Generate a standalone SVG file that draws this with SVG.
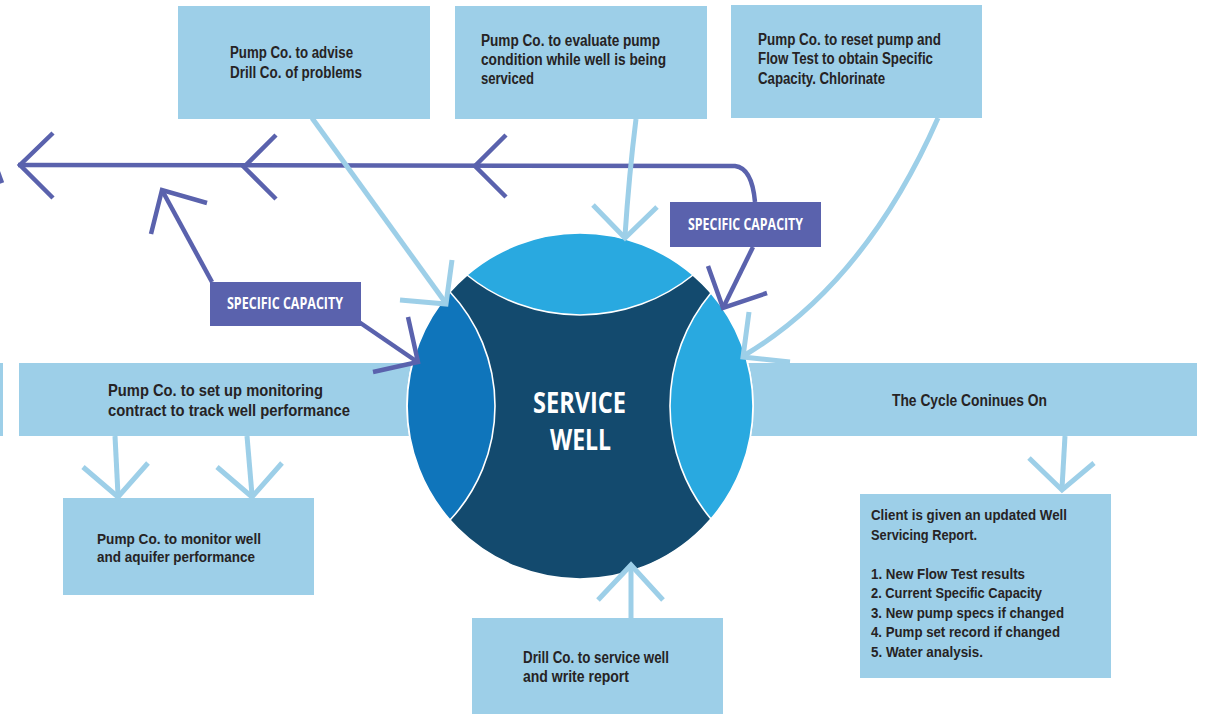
<svg xmlns="http://www.w3.org/2000/svg" width="1205" height="714" viewBox="0 0 1205 714">
  <style>
    .box { fill: #9dcfe8; }
    .txt { font-family: "Liberation Sans", Arial, sans-serif; font-weight: 700; fill: #262324; }
    .lbl { fill: #5a62ad; }
    .lbltxt { font-family: "Open Sans", "Liberation Sans", sans-serif; font-weight: 700; font-size: 16px; fill: #ffffff; }
    .ring { stroke: #ffffff; stroke-width: 1.6; }
    .hub { font-family: "Open Sans", "Liberation Sans", sans-serif; font-weight: 700; font-size: 29px; fill: #ffffff; }
    .lb { fill: none; stroke: #9dcfe8; stroke-width: 5; stroke-linecap: butt; stroke-linejoin: miter; }
    .pu { fill: none; stroke: #5a62ad; stroke-width: 4.5; stroke-linecap: butt; stroke-linejoin: miter; }
  </style>

  <rect width="1205" height="714" fill="#ffffff"/>

  <!-- boxes -->
  <g id="edge-box">
    <rect class="box" x="-10" y="363" width="13" height="73"/>
  </g>
  <g id="advise">
    <rect class="box" x="178" y="6" width="252" height="113"/>
    <text class="txt" font-size="16" x="230" y="58" textLength="123" lengthAdjust="spacingAndGlyphs">Pump Co. to advise</text>
    <text class="txt" font-size="16" x="230" y="78" textLength="132" lengthAdjust="spacingAndGlyphs">Drill Co. of problems</text>
  </g>
  <g id="evaluate">
    <rect class="box" x="455" y="6" width="252" height="113"/>
    <text class="txt" font-size="16" x="481" y="46" textLength="179" lengthAdjust="spacingAndGlyphs">Pump Co. to evaluate pump</text>
    <text class="txt" font-size="16" x="481" y="65" textLength="185" lengthAdjust="spacingAndGlyphs">condition while well is being</text>
    <text class="txt" font-size="16" x="481" y="84" textLength="53" lengthAdjust="spacingAndGlyphs">serviced</text>
  </g>
  <g id="reset">
    <rect class="box" x="731" y="5" width="251" height="113"/>
    <text class="txt" font-size="16" x="758" y="45" textLength="183" lengthAdjust="spacingAndGlyphs">Pump Co. to reset pump and</text>
    <text class="txt" font-size="16" x="758" y="64" textLength="175" lengthAdjust="spacingAndGlyphs">Flow Test to obtain Specific</text>
    <text class="txt" font-size="16" x="758" y="84" textLength="127" lengthAdjust="spacingAndGlyphs">Capacity. Chlorinate</text>
  </g>
  <g id="contract">
    <rect class="box" x="19" y="363" width="400" height="73"/>
    <text class="txt" font-size="17" x="108" y="396" textLength="215" lengthAdjust="spacingAndGlyphs">Pump Co. to set up monitoring</text>
    <text class="txt" font-size="17" x="108" y="416" textLength="242" lengthAdjust="spacingAndGlyphs">contract to track well performance</text>
  </g>
  <g id="monitor">
    <rect class="box" x="63" y="498" width="251" height="97"/>
    <text class="txt" font-size="15.5" x="97" y="544" textLength="164" lengthAdjust="spacingAndGlyphs">Pump Co. to monitor well</text>
    <text class="txt" font-size="15.5" x="97" y="562" textLength="158" lengthAdjust="spacingAndGlyphs">and aquifer performance</text>
  </g>
  <g id="cycle">
    <rect class="box" x="740" y="363" width="457" height="73"/>
    <text class="txt" font-size="17" x="892" y="406" textLength="155" lengthAdjust="spacingAndGlyphs">The Cycle Coninues On</text>
  </g>
  <g id="report">
    <rect class="box" x="860" y="494" width="251" height="184"/>
    <text class="txt" font-size="15.5" x="871" y="520" textLength="196" lengthAdjust="spacingAndGlyphs">Client is given an updated Well</text>
    <text class="txt" font-size="15.5" x="871" y="539.5" textLength="106" lengthAdjust="spacingAndGlyphs">Servicing Report.</text>
    <text class="txt" font-size="15.5" x="871" y="579" textLength="154" lengthAdjust="spacingAndGlyphs">1. New Flow Test results</text>
    <text class="txt" font-size="15.5" x="871" y="598" textLength="171" lengthAdjust="spacingAndGlyphs">2. Current Specific Capacity</text>
    <text class="txt" font-size="15.5" x="871" y="618" textLength="193" lengthAdjust="spacingAndGlyphs">3. New pump specs if changed</text>
    <text class="txt" font-size="15.5" x="871" y="637" textLength="189" lengthAdjust="spacingAndGlyphs">4. Pump set record if changed</text>
    <text class="txt" font-size="15.5" x="871" y="657" textLength="112" lengthAdjust="spacingAndGlyphs">5. Water analysis.</text>
  </g>
  <g id="service">
    <rect class="box" x="472" y="618" width="251" height="100"/>
    <text class="txt" font-size="16" x="523" y="663" textLength="146" lengthAdjust="spacingAndGlyphs">Drill Co. to service well</text>
    <text class="txt" font-size="16" x="523" y="682" textLength="106" lengthAdjust="spacingAndGlyphs">and write report</text>
  </g>

  <!-- central wheel -->
  <g id="service-well">
    <circle class="ring" cx="580" cy="406" r="173" fill="#134a6e"/>
    <path class="ring" fill="#29a9e0" d="M467,275 A173,173 0 0 1 693,275 A179.6,179.6 0 0 1 467,275 Z"/>
    <path class="ring" fill="#0f75bb" d="M450,292 A166.9,166.9 0 0 1 450,520 A173,173 0 0 1 450,292 Z"/>
    <path class="ring" fill="#29a9e0" d="M711,293 A173,173 0 0 1 711,519 A176.2,176.2 0 0 1 711,293 Z"/>
    <text class="hub" x="533" y="413" textLength="93" lengthAdjust="spacingAndGlyphs">SERVICE</text>
    <text class="hub" x="550" y="450" textLength="61" lengthAdjust="spacingAndGlyphs">WELL</text>
  </g>

  <!-- connectors -->
  <g id="connectors">
    <!-- specific capacity feedback line -->
    <path class="pu" d="M18,165 L735,166 Q752,168 755,202"/>
    <polyline class="pu" points="53,133 20,165 53,198"/>
    <polyline class="pu" points="276,135 244,167 276,199"/>
    <polyline class="pu" points="506,135 475,166 506,197"/>
    <path class="pu" d="M-2,172 L2,183"/>
    <!-- label 1 arrows -->
    <line class="pu" x1="212" y1="282" x2="163" y2="192"/>
    <polyline class="pu" points="207,203 162,190 151,234"/>
    <line class="pu" x1="359" y1="322" x2="416" y2="361"/>
    <polyline class="pu" points="408,317 418,362 373,372"/>
    <!-- label 2 arrow -->
    <line class="pu" x1="753" y1="247" x2="724" y2="306"/>
    <polyline class="pu" points="708,266 723,308 767,293"/>

    <!-- light blue flow arrows -->
    <line class="lb" x1="312" y1="118" x2="445" y2="302"/>
    <polyline class="lb" points="452,260 446,304 400,300"/>
    <path class="lb" d="M636,119 Q629,175 625,236"/>
    <polyline class="lb" points="593,205 625,238 657,207"/>
    <path class="lb" d="M938,118 Q865.5,282.5 745,355"/>
    <polyline class="lb" points="749,312 743,357 790,362"/>
    <line class="lb" x1="115" y1="436" x2="118" y2="495"/>
    <polyline class="lb" points="83,467 118,497 148,463"/>
    <line class="lb" x1="247" y1="436" x2="252" y2="495"/>
    <polyline class="lb" points="217,467 252,497 282,463"/>
    <line class="lb" x1="1065" y1="436" x2="1062" y2="488"/>
    <polyline class="lb" points="1029,458 1062,490 1094,463"/>
    <line class="lb" x1="631" y1="618" x2="631" y2="567"/>
    <polyline class="lb" points="598,600 631,565 663,600"/>
  </g>

  <!-- specific capacity labels -->
  <g id="capacity-left">
    <rect class="lbl" x="210" y="282" width="151" height="44"/>
    <text class="lbltxt" x="227" y="309" textLength="116" lengthAdjust="spacingAndGlyphs">SPECIFIC CAPACITY</text>
  </g>
  <g id="capacity-right">
    <rect class="lbl" x="670" y="202" width="151" height="45"/>
    <text class="lbltxt" x="688" y="230" textLength="115" lengthAdjust="spacingAndGlyphs">SPECIFIC CAPACITY</text>
  </g>
</svg>
